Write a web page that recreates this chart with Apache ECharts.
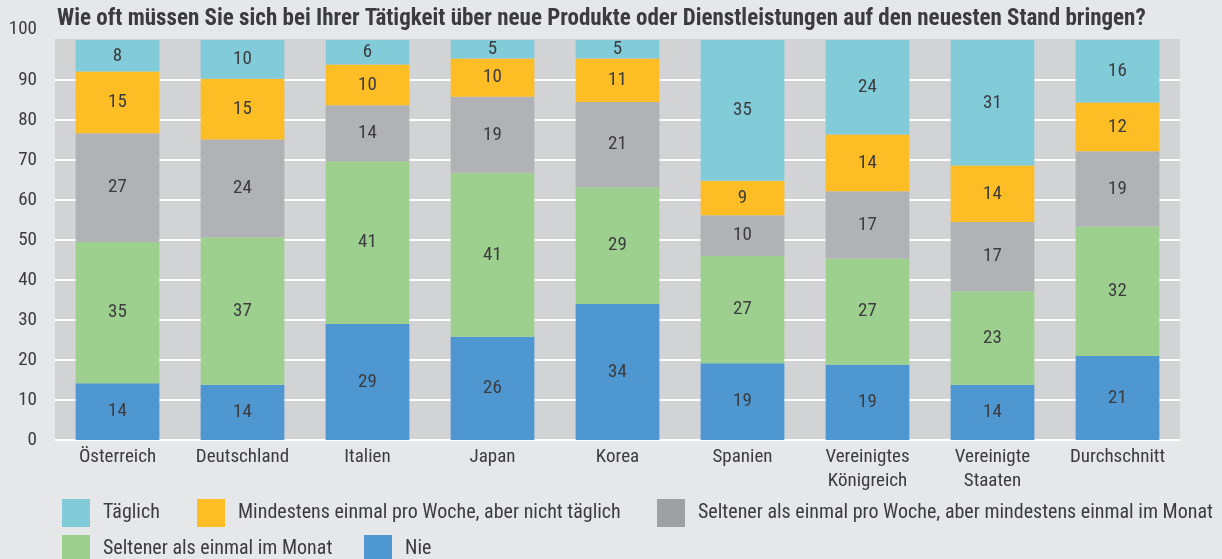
<!DOCTYPE html>
<html lang="de">
<head>
    <meta charset="UTF-8">
    <title>Neueste Stand</title>
    <style>
        html, body { margin: 0; padding: 0; background: #e6e7e9; }
        #main { width: 1222px; height: 559px; }
    </style>
</head>
<body>
<div id="main"></div>
<script src="https://cdn.jsdelivr.net/npm/echarts@6/dist/echarts.min.js"></script>
<script>
    // Länder
    var laender = ['Österreich', 'Deutschland', 'Italien', 'Japan', 'Korea', 'Spanien',
        'Vereinigtes\nKönigreich', 'Vereinigte\nStaaten', 'Durchschnitt'];

    // Anteile in Prozent (Beschriftung = gerundet)
    var nie         = [14.2, 13.8, 29.0, 25.8, 34.0, 19.2, 18.8, 13.8, 21.0];
    var seltenMonat = [35.3, 36.9, 40.7, 41.0, 29.2, 26.8, 26.6, 23.4, 32.4];
    var seltenWoche = [27.2, 24.4, 14.0, 19.0, 21.3, 10.2, 16.8, 17.3, 18.8];
    var woche       = [15.4, 15.2, 10.2,  9.6, 10.9,  8.6, 14.2, 14.1, 12.2];
    var taeglich    = [ 7.9,  9.7,  6.1,  4.6,  4.6, 35.2, 23.6, 31.4, 15.6];

    var namen = ['Täglich', 'Mindestens einmal pro Woche, aber nicht täglich',
        'Seltener als einmal pro Woche, aber mindestens einmal im Monat',
        'Seltener als einmal im Monat', 'Nie'];

    var schrift = "'Roboto Condensed', 'DejaVu Sans Condensed', sans-serif";
    var textFarbe = '#3c3c3e';

    function reihe(name, data, farbe) {
        return {
            name: name,
            type: 'bar',
            stack: 'gesamt',
            barWidth: '67%',
            data: data,
            itemStyle: { color: farbe },
            label: {
                show: true,
                color: textFarbe,
                fontFamily: schrift,
                fontSize: 19,
                formatter: function (p) { return Math.round(p.value); }
            }
        };
    }

    function legende(name, left, top, farbe) {
        return {
            data: [{ name: name, itemStyle: { color: farbe } }],
            left: left,
            top: top,
            padding: 0,
            icon: 'rect',
            itemWidth: 28,
            itemHeight: 28,
            itemGap: 0,
            selectedMode: false,
            textStyle: { color: textFarbe, fontFamily: schrift, fontSize: 20, padding: [0, 0, 0, 8] }
        };
    }

    var gridFarben = ['#fff', '#fff', '#fff', '#fff', '#fff', '#fff', '#fff', '#fff', '#fff', '#fff', '#d2d3d5'];

    var chart = echarts.init(document.getElementById('main'));
    chart.setOption({
        backgroundColor: '#e6e7e9',
        animation: false,
        title: {
            text: 'Wie oft müssen Sie sich bei Ihrer Tätigkeit über neue Produkte oder Dienstleistungen auf den neuesten Stand bringen?',
            left: 57,
            top: 8,
            padding: 0,
            textStyle: { color: textFarbe, fontFamily: schrift, fontSize: 23, fontWeight: 'bold' }
        },
        legend: [
            legende(namen[0], 62, 499, '#82cbd9'),
            legende(namen[1], 197, 499, '#fdbd25'),
            legende(namen[2], 657, 499, '#9fa0a2'),
            legende(namen[3], 62, 535, '#9dd08f'),
            legende(namen[4], 364, 535, '#4f97d1')
        ],
        grid: {
            left: 55, right: 42, top: 40, bottom: 119,
            show: true, backgroundColor: '#d2d3d5', borderWidth: 0
        },
        xAxis: {
            type: 'category',
            data: laender,
            axisLine: { show: false },
            axisTick: { show: false },
            axisLabel: {
                color: textFarbe, fontFamily: schrift, fontSize: 19,
                margin: 5, lineHeight: 24, interval: 0
            }
        },
        yAxis: {
            type: 'value',
            min: 0, max: 100, interval: 10,
            axisLine: { show: false },
            axisTick: { show: false },
            splitLine: { lineStyle: { color: gridFarben, width: 2 } },
            axisLabel: {
                color: textFarbe, fontFamily: schrift, fontSize: 19, margin: 18,
                formatter: function (v) { return v === 100 ? '{t|100}' : v; },
                rich: { t: { color: textFarbe, fontFamily: schrift, fontSize: 19, padding: [0, 0, 22, 0] } }
            }
        },
        series: [
            reihe(namen[4], nie, '#4f97d1'),
            reihe(namen[3], seltenMonat, '#9dd08f'),
            reihe(namen[2], seltenWoche, '#b1b2b5'),
            reihe(namen[1], woche, '#fdbd25'),
            reihe(namen[0], taeglich, '#82cbd9')
        ]
    });
</script>
</body>
</html>
